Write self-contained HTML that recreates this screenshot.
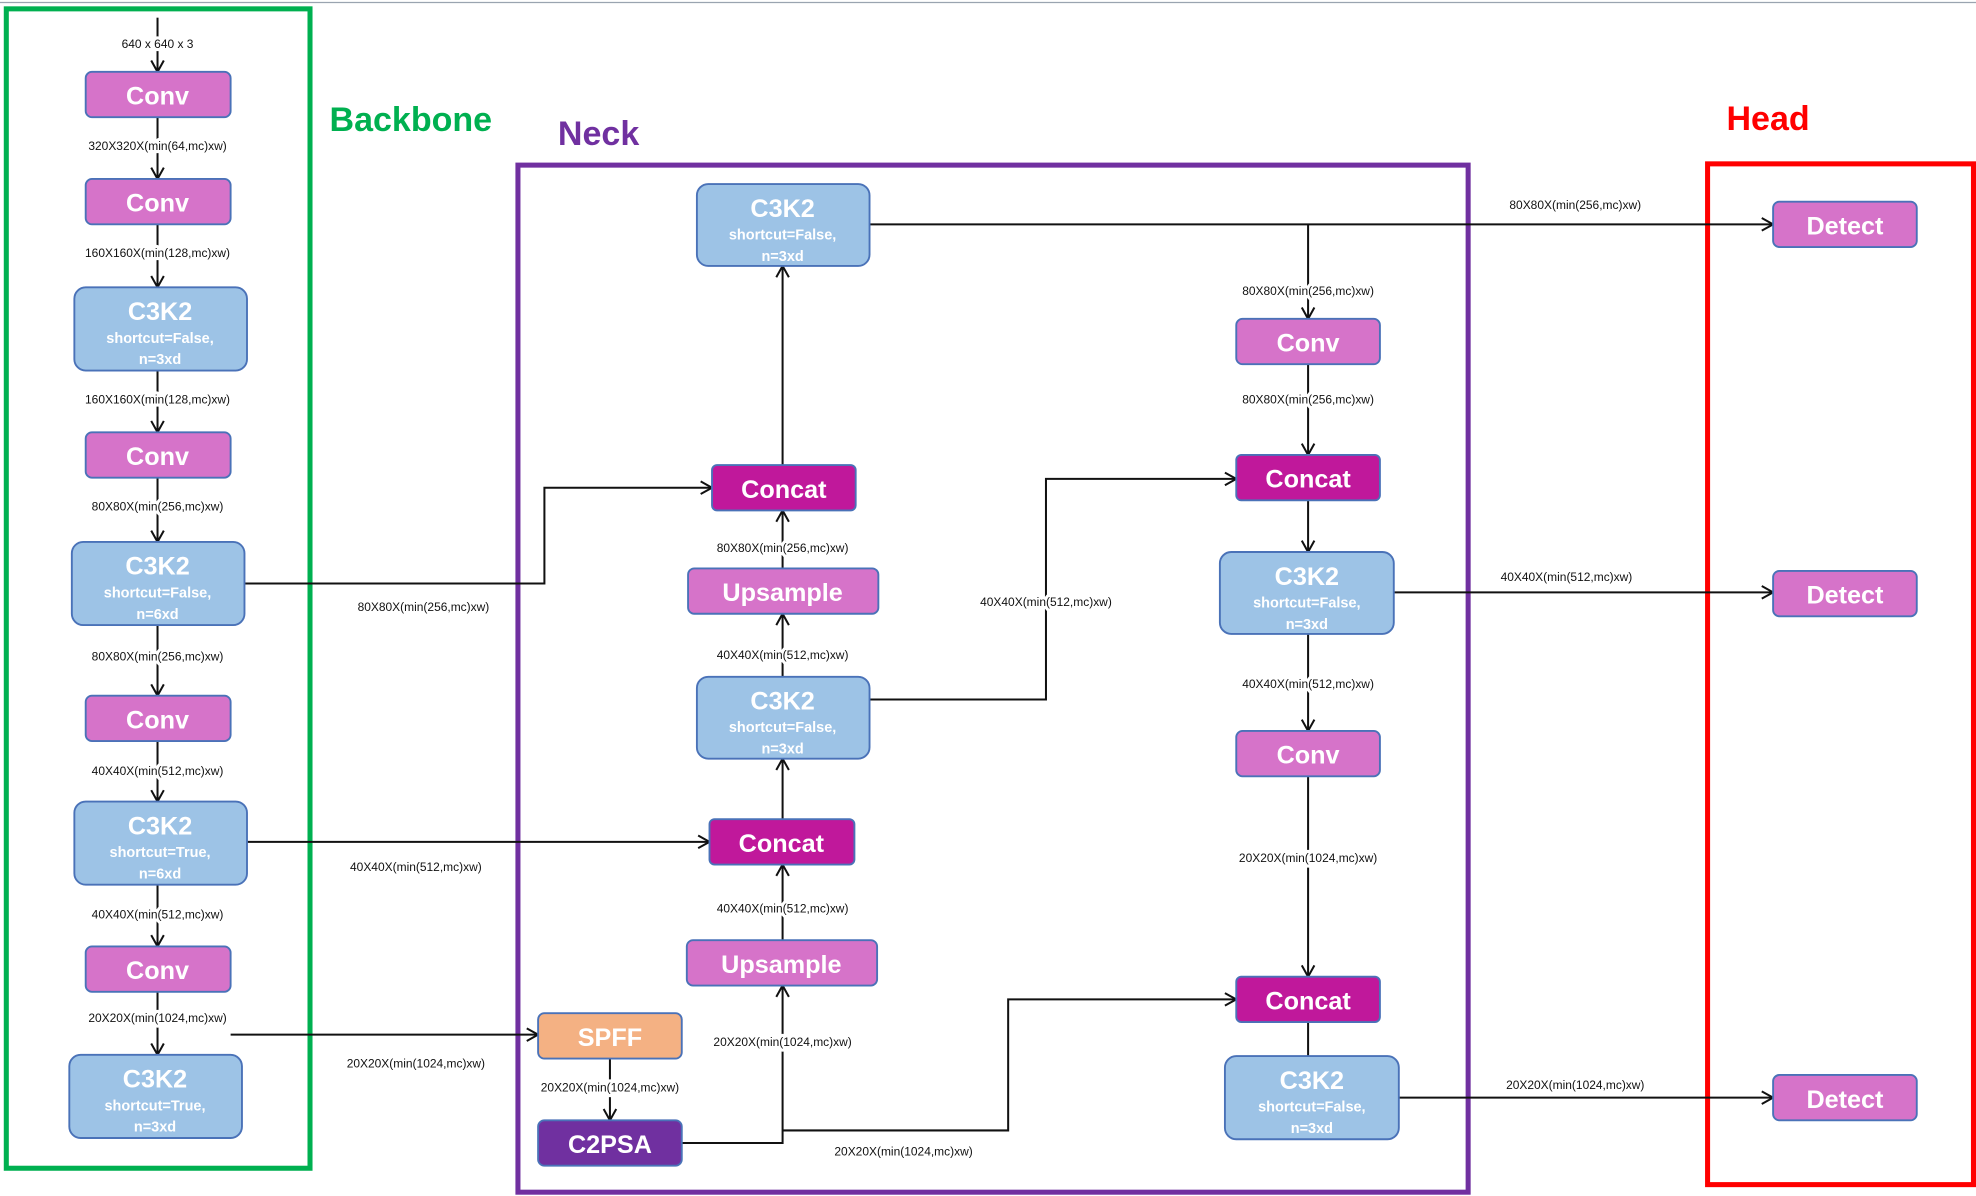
<!DOCTYPE html>
<html><head><meta charset="utf-8"><style>
html,body{margin:0;padding:0;background:#fff;}
svg{display:block;}
.lb{font-family:"Liberation Sans",sans-serif;font-size:9.5px;fill:#111;text-anchor:middle;paint-order:stroke;stroke:#fff;stroke-width:5px;stroke-linejoin:round;}
.t{font-family:"Liberation Sans",sans-serif;font-weight:bold;fill:#fff;text-anchor:middle;}
.e{stroke:#111;stroke-width:1.6;fill:none;}
</style></head><body>
<svg width="1976" height="1196" viewBox="0 0 1568 949" xmlns="http://www.w3.org/2000/svg">
<defs>
<marker id="a" markerWidth="12" markerHeight="12" refX="10" refY="6" orient="auto" markerUnits="userSpaceOnUse">
<path d="M1,1 L10,6 L1,11" fill="none" stroke="#111" stroke-width="1.6"/>
</marker>
</defs>
<line x1="0" y1="2" x2="1568" y2="2" stroke="#9aa4b0" stroke-width="1"/>
<!-- frames -->
<rect x="5" y="7" width="241" height="920" fill="none" stroke="#00b050" stroke-width="4"/>
<rect x="411" y="131" width="754" height="815" fill="none" stroke="#7030a0" stroke-width="4"/>
<rect x="1355" y="130" width="211" height="810" fill="none" stroke="#ff0000" stroke-width="4"/>
<text x="326" y="104" class="t" style="fill:#00b050;font-size:27px">Backbone</text>
<text x="475" y="115" class="t" style="fill:#7030a0;font-size:27px">Neck</text>
<text x="1403" y="103" class="t" style="fill:#ff0000;font-size:27px">Head</text>

<!-- edges -->
<g class="e">
<path d="M125,14 V57" marker-end="url(#a)"/>
<path d="M125,93 V142" marker-end="url(#a)"/>
<path d="M125,178 V228" marker-end="url(#a)"/>
<path d="M125,294 V343" marker-end="url(#a)"/>
<path d="M125,379 V430" marker-end="url(#a)"/>
<path d="M125,496 V552" marker-end="url(#a)"/>
<path d="M125,588 V636" marker-end="url(#a)"/>
<path d="M125,702 V751" marker-end="url(#a)"/>
<path d="M125,787 V837" marker-end="url(#a)"/>
<path d="M194,463 H432 V387 H565" marker-end="url(#a)"/>
<path d="M196,668 H563" marker-end="url(#a)"/>
<path d="M183,821 H427" marker-end="url(#a)"/>
<path d="M484,840 V889" marker-end="url(#a)"/>
<path d="M541,907 H621 V782" marker-end="url(#a)"/>
<path d="M621,897 H800 V793 H981" marker-end="url(#a)"/>
<path d="M621,746 V686" marker-end="url(#a)"/>
<path d="M621,650 V602" marker-end="url(#a)"/>
<path d="M621,537 V487" marker-end="url(#a)"/>
<path d="M621,451 V405" marker-end="url(#a)"/>
<path d="M621,369 V211" marker-end="url(#a)"/>
<path d="M690,555 H830 V380 H981" marker-end="url(#a)"/>
<path d="M690,178 H1407" marker-end="url(#a)"/>
<path d="M1038,178 V253" marker-end="url(#a)"/>
<path d="M1038,289 V361" marker-end="url(#a)"/>
<path d="M1038,397 V438" marker-end="url(#a)"/>
<path d="M1106,470 H1407" marker-end="url(#a)"/>
<path d="M1038,503 V580" marker-end="url(#a)"/>
<path d="M1038,616 V775" marker-end="url(#a)"/>
<path d="M1038,811 V838"/>
<path d="M1110,871 H1407" marker-end="url(#a)"/>
</g>

<!-- labels -->
<text class="lb" x="125" y="38">640 x 640 x 3</text>
<text class="lb" x="125" y="119">320X320X(min(64,mc)xw)</text>
<text class="lb" x="125" y="204">160X160X(min(128,mc)xw)</text>
<text class="lb" x="125" y="320">160X160X(min(128,mc)xw)</text>
<text class="lb" x="125" y="405">80X80X(min(256,mc)xw)</text>
<text class="lb" x="125" y="524">80X80X(min(256,mc)xw)</text>
<text class="lb" x="125" y="615">40X40X(min(512,mc)xw)</text>
<text class="lb" x="125" y="729">40X40X(min(512,mc)xw)</text>
<text class="lb" x="125" y="811">20X20X(min(1024,mc)xw)</text>
<text class="lb" x="336" y="485">80X80X(min(256,mc)xw)</text>
<text class="lb" x="330" y="691">40X40X(min(512,mc)xw)</text>
<text class="lb" x="330" y="847">20X20X(min(1024,mc)xw)</text>
<text class="lb" x="484" y="866">20X20X(min(1024,mc)xw)</text>
<text class="lb" x="621" y="830">20X20X(min(1024,mc)xw)</text>
<text class="lb" x="717" y="917">20X20X(min(1024,mc)xw)</text>
<text class="lb" x="621" y="724">40X40X(min(512,mc)xw)</text>
<text class="lb" x="621" y="523">40X40X(min(512,mc)xw)</text>
<text class="lb" x="621" y="438">80X80X(min(256,mc)xw)</text>
<text class="lb" x="830" y="481">40X40X(min(512,mc)xw)</text>
<text class="lb" x="1250" y="166">80X80X(min(256,mc)xw)</text>
<text class="lb" x="1038" y="234">80X80X(min(256,mc)xw)</text>
<text class="lb" x="1038" y="320">80X80X(min(256,mc)xw)</text>
<text class="lb" x="1243" y="461">40X40X(min(512,mc)xw)</text>
<text class="lb" x="1038" y="546">40X40X(min(512,mc)xw)</text>
<text class="lb" x="1038" y="684">20X20X(min(1024,mc)xw)</text>
<text class="lb" x="1250" y="864">20X20X(min(1024,mc)xw)</text>

<!-- nodes -->
<g stroke="#4a72b8" stroke-width="1.5">
<!-- Conv style -->
<g fill="#d673c9">
<rect x="68" y="57" width="115" height="36" rx="5"/>
<rect x="68" y="142" width="115" height="36" rx="5"/>
<rect x="68" y="343" width="115" height="36" rx="5"/>
<rect x="68" y="552" width="115" height="36" rx="5"/>
<rect x="68" y="751" width="115" height="36" rx="5"/>
<rect x="546" y="451" width="151" height="36" rx="5"/>
<rect x="545" y="746" width="151" height="36" rx="5"/>
<rect x="981" y="253" width="114" height="36" rx="5"/>
<rect x="981" y="580" width="114" height="36" rx="5"/>
<rect x="1407" y="160" width="114" height="36" rx="5"/>
<rect x="1407" y="453" width="114" height="36" rx="5"/>
<rect x="1407" y="853" width="114" height="36" rx="5"/>
</g>
<g fill="#9dc3e6">
<rect x="59" y="228" width="137" height="66" rx="9"/>
<rect x="57" y="430" width="137" height="66" rx="9"/>
<rect x="59" y="636" width="137" height="66" rx="9"/>
<rect x="55" y="837" width="137" height="66" rx="9"/>
<rect x="553" y="146" width="137" height="65" rx="9"/>
<rect x="553" y="537" width="137" height="65" rx="9"/>
<rect x="968" y="438" width="138" height="65" rx="9"/>
<rect x="972" y="838" width="138" height="66" rx="9"/>
</g>
<g fill="#c0189b">
<rect x="565" y="369" width="114" height="36" rx="4"/>
<rect x="563" y="650" width="115" height="36" rx="4"/>
<rect x="981" y="361" width="114" height="36" rx="4"/>
<rect x="981" y="775" width="114" height="36" rx="4"/>
</g>
<rect x="427" y="804" width="114" height="36" rx="5" fill="#f4b183"/>
<rect x="427" y="889" width="114" height="36" rx="5" fill="#7030a0"/>
</g>

<g class="t" style="font-size:20px">
<text x="125" y="83">Conv</text>
<text x="125" y="168">Conv</text>
<text x="125" y="369">Conv</text>
<text x="125" y="578">Conv</text>
<text x="125" y="777">Conv</text>
<text x="621" y="477">Upsample</text>
<text x="620" y="772">Upsample</text>
<text x="1038" y="279">Conv</text>
<text x="1038" y="606">Conv</text>
<text x="1464" y="186">Detect</text>
<text x="1464" y="479">Detect</text>
<text x="1464" y="879">Detect</text>
<text x="622" y="395">Concat</text>
<text x="620" y="676">Concat</text>
<text x="1038" y="387">Concat</text>
<text x="1038" y="801">Concat</text>
<text x="484" y="830">SPFF</text>
<text x="484" y="915">C2PSA</text>
</g>
<g class="t">
<text x="127" y="254" style="font-size:20px">C3K2</text><text x="127" y="272" style="font-size:11.5px">shortcut=False,</text><text x="127" y="289" style="font-size:11.5px">n=3xd</text>
<text x="125" y="456" style="font-size:20px">C3K2</text><text x="125" y="474" style="font-size:11.5px">shortcut=False,</text><text x="125" y="491" style="font-size:11.5px">n=6xd</text>
<text x="127" y="662" style="font-size:20px">C3K2</text><text x="127" y="680" style="font-size:11.5px">shortcut=True,</text><text x="127" y="697" style="font-size:11.5px">n=6xd</text>
<text x="123" y="863" style="font-size:20px">C3K2</text><text x="123" y="881" style="font-size:11.5px">shortcut=True,</text><text x="123" y="898" style="font-size:11.5px">n=3xd</text>
<text x="621" y="172" style="font-size:20px">C3K2</text><text x="621" y="190" style="font-size:11.5px">shortcut=False,</text><text x="621" y="207" style="font-size:11.5px">n=3xd</text>
<text x="621" y="563" style="font-size:20px">C3K2</text><text x="621" y="581" style="font-size:11.5px">shortcut=False,</text><text x="621" y="598" style="font-size:11.5px">n=3xd</text>
<text x="1037" y="464" style="font-size:20px">C3K2</text><text x="1037" y="482" style="font-size:11.5px">shortcut=False,</text><text x="1037" y="499" style="font-size:11.5px">n=3xd</text>
<text x="1041" y="864" style="font-size:20px">C3K2</text><text x="1041" y="882" style="font-size:11.5px">shortcut=False,</text><text x="1041" y="899" style="font-size:11.5px">n=3xd</text>
</g>
</svg>
</body></html>
